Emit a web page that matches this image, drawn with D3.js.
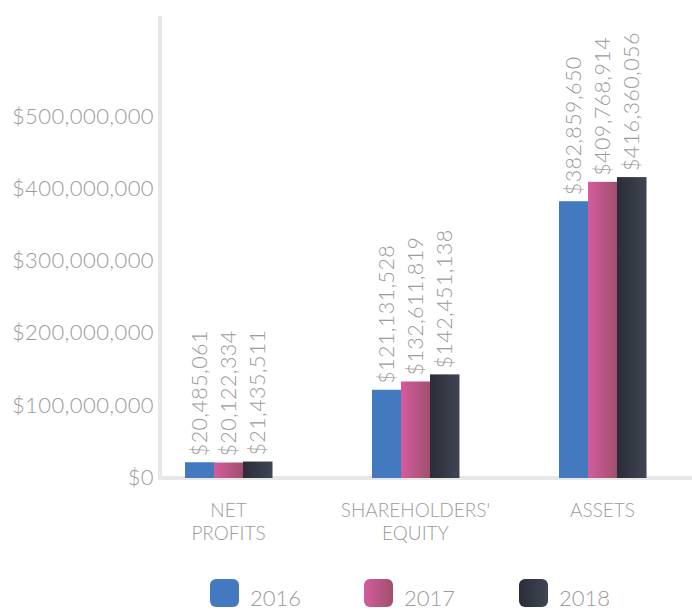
<!DOCTYPE html>
<html>
<head>
<meta charset="utf-8">
<script src="https://cdn.jsdelivr.net/npm/d3@7"></script>
<style>
  html, body { margin: 0; padding: 0; background: #fff; }
  svg { display: block; font-family: "Lato", "Open Sans", sans-serif; font-weight: 300; }
</style>
</head>
<body>
<svg id="chart" width="692" height="610"></svg>
<script>
const categories = [["NET", "PROFITS"], ["SHAREHOLDERS'", "EQUITY"], ["ASSETS"]];
const years = ["2016", "2017", "2018"];
const values2016 = [20485061, 121131528, 382859650];
const values2017 = [20122334, 132611819, 409768914];
const values2018 = [21435511, 142451138, 416360056];
const yTicks = [0, 100000000, 200000000, 300000000, 400000000, 500000000];

const series = [values2016, values2017, values2018];
const svg = d3.select("#chart");

const yMax = 640000000,
    y = d3.scaleLinear().domain([0, yMax]).range([477, 16]),
    x0 = d3.scalePoint().domain(d3.range(categories.length)).range([135, 696]).padding(0.5),
    x1 = d3.scaleBand().domain(years).range([-43.5, 43.5]),
    money = d => "$" + d3.format(",")(d),
    grey = "#9b9b9b";

// gradients for the bars and legend swatches
const defs = svg.append("defs");
const fills = [
    ["#4279bf", "#4279bf"],
    ["#d35c9e", "#a04f6d"],
    ["#2b2e38", "#3f4553"]
];
fills.forEach((f, i) => {
    const g = defs.append("linearGradient").attr("id", "grad" + i)
        .attr("x1", "0%").attr("x2", "100%").attr("y1", "0%").attr("y2", "0%");
    g.append("stop").attr("offset", "0%").attr("stop-color", f[0]);
    g.append("stop").attr("offset", "100%").attr("stop-color", f[1]);
});

// axis lines
svg.append("line")
    .attr("x1", 160).attr("x2", 160)
    .attr("y1", y(yMax)).attr("y2", y(0) + 3)
    .attr("stroke", "#e6e7e7").attr("stroke-width", 4);
svg.append("line")
    .attr("x1", 158).attr("x2", 692)
    .attr("y1", y(0) + 1).attr("y2", y(0) + 1)
    .attr("stroke", "#e6e7e7").attr("stroke-width", 4);

// y axis labels
const yAxis = d3.axisLeft(y).tickValues(yTicks).tickSize(0).tickPadding(0).tickFormat(money);
svg.append("g")
    .attr("transform", "translate(154,0)")
    .call(yAxis)
    .call(g => g.select(".domain").remove())
    .selectAll("text")
    .attr("fill", null)
    .style("fill", grey)
    .style("font-family", "Lato, sans-serif")
    .style("font-weight", 300)
    .style("letter-spacing", "0.4px")
    .style("font-size", "22px");

// bars
const groups = svg.selectAll("g.group")
    .data(categories)
    .join("g")
    .attr("class", "group")
    .attr("transform", (d, i) => `translate(${x0(i)},0)`);

groups.each(function(c, ci) {
    const g = d3.select(this);
    years.forEach((yr, si) => {
        const v = series[si][ci];
        g.append("rect")
            .attr("x", x1(yr))
            .attr("y", y(v))
            .attr("width", x1.bandwidth() + 0.5)
            .attr("height", y(0) + 1 - y(v))
            .attr("fill", `url(#grad${si})`);
        const cx = x1(yr) + x1.bandwidth() / 2;
        g.append("text")
            .attr("transform", `translate(${cx},${y(v) - 6}) rotate(-90)`)
            .attr("dy", "0.35em")
            .style("fill", grey)
            .style("letter-spacing", "0.4px")
            .style("font-size", "21.5px")
            .text(money(v));
    });
    g.selectAll("text.cat")
        .data(c)
        .join("text")
        .attr("class", "cat")
        .attr("text-anchor", "middle")
        .attr("y", (d, i) => 517 + i * 23)
        .style("fill", grey)
        .style("font-size", "19px")
        .text(d => d);
});

// legend
const legendX = [210, 364, 519];
const legend = svg.selectAll("g.legend")
    .data(years)
    .join("g")
    .attr("class", "legend")
    .attr("transform", (d, i) => `translate(${legendX[i]},579)`);
legend.append("rect")
    .attr("width", 29).attr("height", 28)
    .attr("rx", 6).attr("ry", 6)
    .attr("fill", (d, i) => `url(#grad${i})`);
legend.append("text")
    .attr("x", 40).attr("y", 27)
    .style("fill", grey)
    .style("font-size", "22px")
    .text(d => d);
</script>
</body>
</html>
